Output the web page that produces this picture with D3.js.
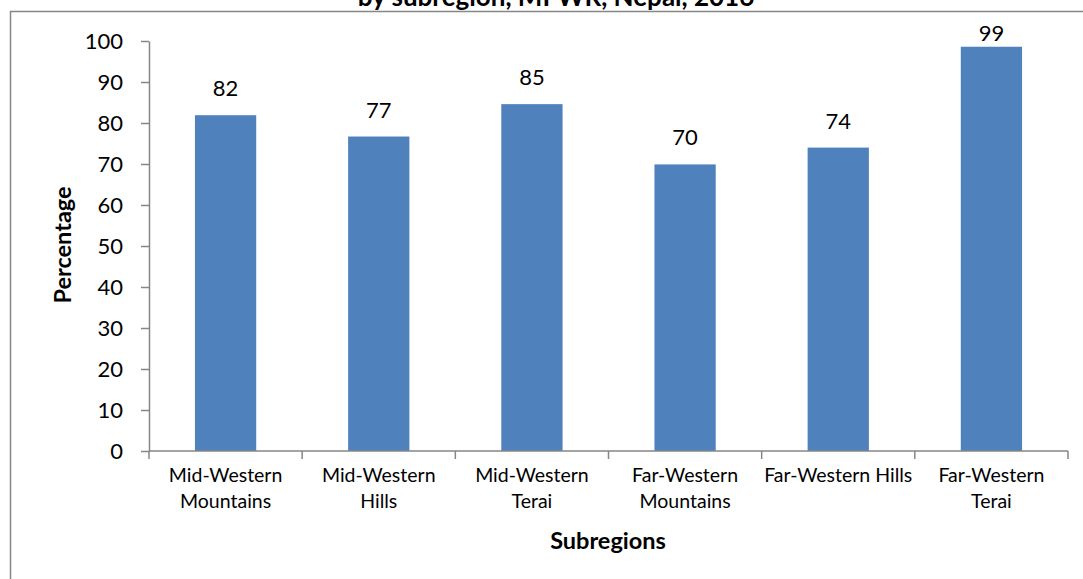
<!DOCTYPE html>
<html>
<head>
    <script src="https://d3js.org/d3.v7.min.js"></script>
    <style>
        body { margin: 0; background: white; }
        svg { display: block; }
        text { font-family: Lato, "Open Sans", sans-serif; fill: #000; }
    </style>
</head>
<body>
    <svg id="chart" width="1083" height="579"></svg>
    <script>
        // data
        var categories = [
            ["Mid-Western", "Mountains"],
            ["Mid-Western", "Hills"],
            ["Mid-Western", "Terai"],
            ["Far-Western", "Mountains"],
            ["Far-Western Hills"],
            ["Far-Western", "Terai"]
        ];
        var values = [81.9, 76.7, 84.6, 69.9, 74.0, 98.6];
        var yTicks = [0, 10, 20, 30, 40, 50, 60, 70, 80, 90, 100];

        var svg = d3.select("#chart");
        var axisColor = "#868686";

        // outer chart frame (top edge sits under the cut-off title)
        svg.append("rect")
            .attr("x", 10.5).attr("y", 11.5)
            .attr("width", 1100).attr("height", 600)
            .attr("fill", "none")
            .attr("stroke", axisColor)
            .attr("stroke-width", 1.5);

        svg.append("text")
            .attr("x", 556).attr("y", 6)
            .attr("text-anchor", "middle")
            .style("font-weight", "bold")
            .style("font-size", "26px")
            .text("by subregion, MFWR, Nepal, 2016");

        var idx = d3.range(categories.length);
        var x = d3.scaleBand().domain(idx).range([149, 1068]).paddingInner(0.6).paddingOuter(0.3);
        var y = d3.scaleLinear().domain([0, 100]).range([451, 41]);

        // y axis
        var gy = svg.append("g").attr("transform", "translate(149,0)")
            .call(d3.axisLeft(y).tickValues(yTicks).tickSize(8).tickPadding(18).tickSizeOuter(0));
        gy.selectAll("text").style("font-size", "22px").style("font-family", "Lato, sans-serif");

        // bars
        svg.append("g").selectAll("rect").data(values).enter().append("rect")
            .attr("x", function (d, i) { return x(i); })
            .attr("y", function (d) { return y(d); })
            .attr("width", x.bandwidth())
            .attr("height", function (d) { return y(0) - y(d); })
            .attr("fill", "#4F81BD");

        // value labels (kept inside the plot area like Excel does)
        svg.append("g").selectAll("text").data(values).enter().append("text")
            .attr("x", function (d, i) { return x(i) + x.bandwidth() / 2; })
            .attr("y", function (d) { return Math.max(y(d) - 19, 41); })
            .attr("text-anchor", "middle")
            .style("font-size", "22px")
            .text(function (d) { return Math.round(d); });

        // x axis
        var gx = svg.append("g").attr("transform", "translate(0,451)");
        gx.append("line").attr("x1", 149).attr("x2", 1068)
            .attr("stroke", axisColor).attr("stroke-width", 1.5);
        var step = x.step();
        gx.selectAll(".tk").data(d3.range(categories.length + 1)).enter().append("line")
            .attr("x1", function (d) { return 149 + d * step; })
            .attr("x2", function (d) { return 149 + d * step; })
            .attr("y1", 0).attr("y2", 8)
            .attr("stroke", axisColor).attr("stroke-width", 1.5);

        var cat = gx.selectAll(".cat").data(categories).enter().append("text")
            .attr("text-anchor", "middle")
            .style("font-size", "19.5px")
            .attr("transform", function (d, i) { return "translate(" + (x(i) + x.bandwidth() / 2) + ",0)"; });
        cat.selectAll("tspan").data(function (d) { return d; }).enter().append("tspan")
            .attr("x", 0)
            .attr("y", function (d, j) { return 31 + j * 26; })
            .text(function (d) { return d; });

        gy.select(".domain").attr("stroke", axisColor).attr("stroke-width", 1.5);
        gy.selectAll(".tick line").attr("stroke", axisColor).attr("stroke-width", 1.5);

        // axis titles
        svg.append("text")
            .attr("x", 608).attr("y", 549)
            .attr("text-anchor", "middle")
            .style("font-weight", "bold").style("font-size", "23.5px")
            .text("Subregions");

        svg.append("text")
            .attr("transform", "translate(71,245) rotate(-90)")
            .attr("text-anchor", "middle")
            .style("font-weight", "bold").style("font-size", "23.5px")
            .text("Percentage");
    </script>
</body>
</html>
